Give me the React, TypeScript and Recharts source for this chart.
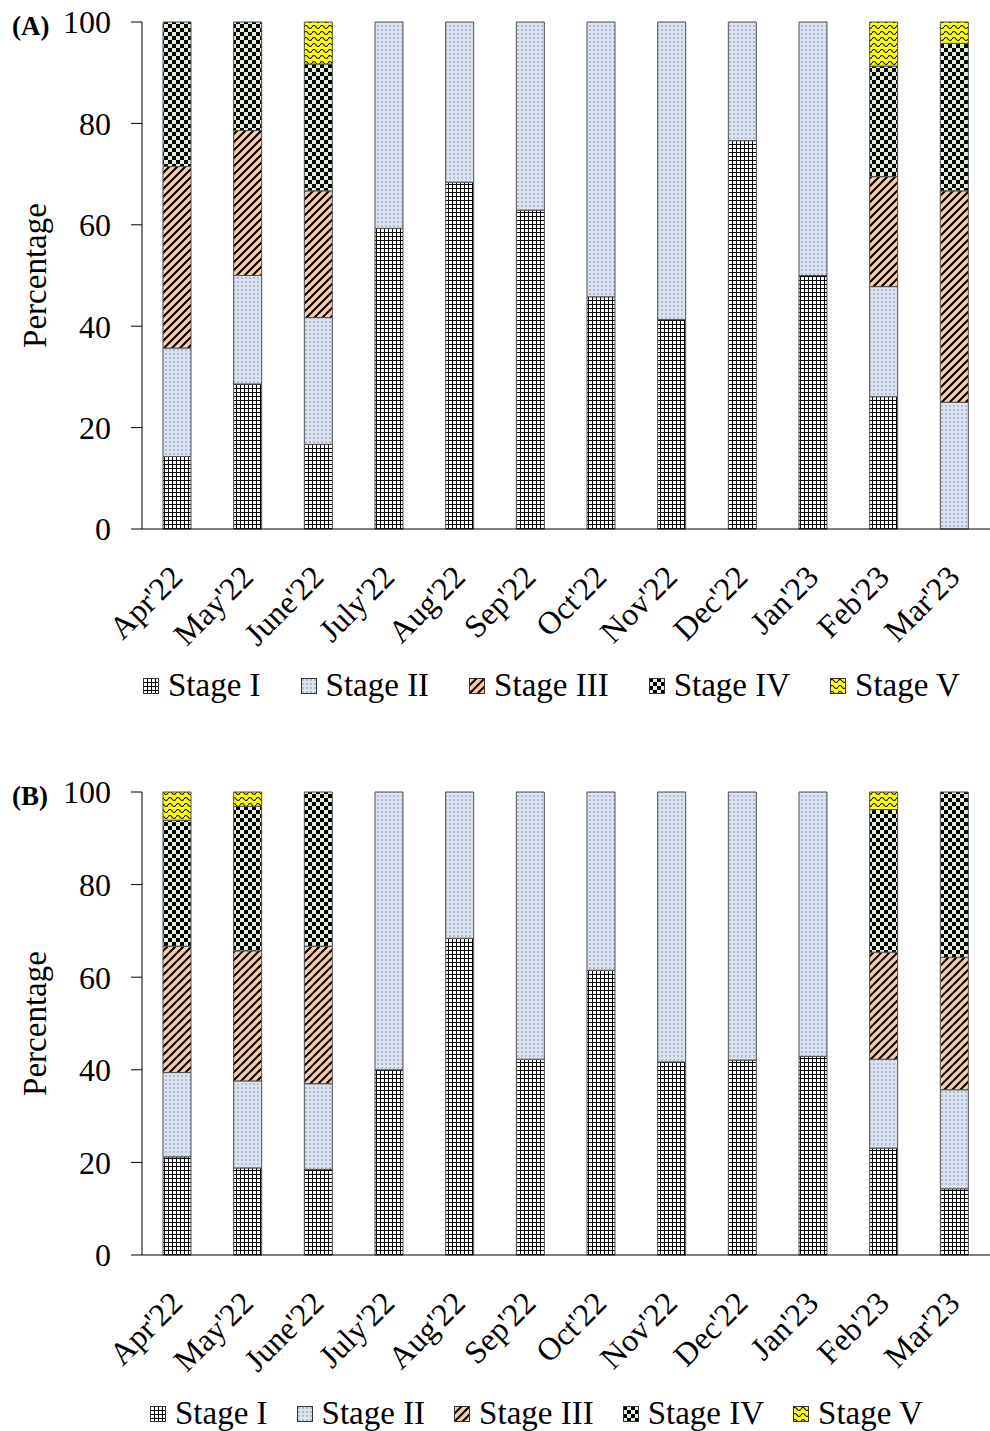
import React from 'react';
import { BarChart, Bar, XAxis, YAxis, Legend } from 'recharts';

const months = ["Apr'22", "May'22", "June'22", "July'22", "Aug'22", "Sep'22", "Oct'22", "Nov'22", "Dec'22", "Jan'23", "Feb'23", "Mar'23"];
const yTicks = [0, 20, 40, 60, 80, 100];
const stageNames = ['Stage I', 'Stage II', 'Stage III', 'Stage IV', 'Stage V'];

// panel A
const stageIA = [14.3, 28.6, 16.7, 59.3, 68.4, 62.9, 45.8, 41.3, 76.6, 50.0, 26.1, 0];
const stageIIA = [21.4, 21.4, 25.0, 40.7, 31.6, 37.1, 54.2, 58.7, 23.4, 50.0, 21.7, 25.0];
const stageIIIA = [35.8, 28.6, 25.0, 0, 0, 0, 0, 0, 0, 0, 21.7, 41.7];
const stageIVA = [28.5, 21.4, 25.0, 0, 0, 0, 0, 0, 0, 0, 21.8, 29.1];
const stageVA = [0, 0, 8.3, 0, 0, 0, 0, 0, 0, 0, 8.7, 4.2];

// panel B
const stageIB = [21.2, 18.8, 18.5, 40.0, 68.4, 42.3, 61.5, 41.7, 42.1, 42.9, 23.1, 14.3];
const stageIIB = [18.2, 18.8, 18.5, 60.0, 31.6, 57.7, 38.5, 58.3, 57.9, 57.1, 19.2, 21.4];
const stageIIIB = [27.3, 28.1, 29.7, 0, 0, 0, 0, 0, 0, 0, 23.1, 28.6];
const stageIVB = [27.2, 31.2, 33.3, 0, 0, 0, 0, 0, 0, 0, 30.8, 35.7];
const stageVB = [6.1, 3.1, 0, 0, 0, 0, 0, 0, 0, 0, 3.8, 0];

const FONT = '"Liberation Serif", "Times New Roman", serif';
const fills = ['url(#pGrid)', 'url(#pDots)', 'url(#pDiag)', 'url(#pCheck)', 'url(#pWave)'];
const keys = ['s1', 's2', 's3', 's4', 's5'];

const buildRows = (cols: number[][]) =>
  months.map((m, i) => ({ month: m, s1: cols[0][i], s2: cols[1][i], s3: cols[2][i], s4: cols[3][i], s5: cols[4][i] }));

const dataA = buildRows([stageIA, stageIIA, stageIIIA, stageIVA, stageVA]);
const dataB = buildRows([stageIB, stageIIB, stageIIIB, stageIVB, stageVB]);

const Patterns = () => (
  <svg width={0} height={0} style={{ position: 'absolute' }}>
    <defs>
      <pattern id="pGrid" patternUnits="userSpaceOnUse" width={4} height={4}>
        <rect width={4} height={4} fill="#fff" />
        <path d="M0 0.5 H4 M0.5 0 V4" stroke="#000" strokeWidth={1} />
      </pattern>
      <pattern id="pDots" patternUnits="userSpaceOnUse" width={4} height={4}>
        <rect width={4} height={4} fill="#dae3f3" />
        <rect x={1.5} y={1.5} width={1} height={1} fill="#444" />
      </pattern>
      <pattern id="pDiag" patternUnits="userSpaceOnUse" width={8} height={8}>
        <rect width={8} height={8} fill="#f8cbad" />
        <path d="M-2 2 L2 -2 M0 8 L8 0 M6 10 L10 6" stroke="#000" strokeWidth={2} />
      </pattern>
      <pattern id="pCheck" patternUnits="userSpaceOnUse" width={8} height={8}>
        <rect width={8} height={8} fill="#e2f0d9" />
        <rect x={0} y={0} width={4} height={4} fill="#000" />
        <rect x={4} y={4} width={4} height={4} fill="#000" />
      </pattern>
      <pattern id="pWave" patternUnits="userSpaceOnUse" width={8} height={6}>
        <rect width={8} height={6} fill="#ffff00" />
        <path d="M0 3 Q2 0 4 3 T8 3" stroke="#000" strokeWidth={1.2} fill="none" />
      </pattern>
    </defs>
  </svg>
);

const MonthTick = (props: any) => {
  const { x, y, payload } = props;
  return (
    <g transform={`translate(${x + 7},${y + 50})`}>
      <text transform="rotate(-45)" textAnchor="end" fontSize={32} fontFamily={FONT} fill="#000">
        {payload.value}
      </text>
    </g>
  );
};

const makeLegend = (left: number, gap: number) => (props: any) => {
  const { payload } = props;
  return (
    <div style={{ display: 'flex', alignItems: 'center', paddingLeft: left, fontFamily: FONT, fontSize: 33, color: '#000' }}>
      {(payload || []).map((entry: any, i: number) => (
        <span key={i} style={{ display: 'flex', alignItems: 'center', marginRight: gap }}>
          <svg width={16} height={16}>
            <rect x={0.5} y={0.5} width={15} height={15} fill={entry.color} stroke="#333" />
          </svg>
          <span style={{ marginLeft: 9, whiteSpace: 'nowrap' }}>{entry.value}</span>
        </span>
      ))}
    </div>
  );
};

const PctLabel = (props: any) => {
  const { viewBox } = props;
  const cy = viewBox.y + viewBox.height / 2;
  return (
    <text x={46} y={cy} transform={`rotate(-90, 46, ${cy})`} textAnchor="middle" fontSize={33} fontFamily={FONT} fill="#000">
      Percentage
    </text>
  );
};

const Panel = ({ data, height, top, bottom, legendTop, legendLeft, legendGap }: any) => (
  <BarChart width={990} height={height} data={data} margin={{ top, right: 0, bottom, left: 0 }}>
    <XAxis
      dataKey="month"
      height={30}
      tick={<MonthTick />}
      tickLine={false}
      tickSize={0}
      tickMargin={0}
      stroke="#000"
      interval={0}
    />
    <YAxis
      width={142}
      domain={[0, 100]}
      ticks={yTicks}
      tickSize={11}
      tickMargin={20}
      stroke="#000"
      tick={{ fill: '#000', fontSize: 32, fontFamily: FONT }}
      label={<PctLabel />}
    />
    <Legend
      layout="horizontal"
      verticalAlign="middle"
      align="center"
      content={makeLegend(legendLeft, legendGap)}
      wrapperStyle={{ top: legendTop, left: 0, width: 990 }}
    />
    {keys.map((k, i) => (
      <Bar
        key={k}
        dataKey={k}
        name={stageNames[i]}
        stackId="a"
        fill={fills[i]}
        stroke="#505050"
        strokeWidth={1}
        barSize={28}
        isAnimationActive={false}
      />
    ))}
  </BarChart>
);

export default function App() {
  return (
    <div style={{ position: 'absolute', left: 0, top: 0, width: 990, height: 1431, background: '#fff', fontFamily: FONT }}>
      <Patterns />
      <div style={{ position: 'absolute', left: 0, top: 0 }}>
        <Panel data={dataA} height={720} top={22} bottom={161} legendTop={667} legendLeft={143} legendGap={40} />
      </div>
      <div style={{ position: 'absolute', left: 12, top: 11, fontSize: 27, fontWeight: 'bold' }}>(A)</div>
      <div style={{ position: 'absolute', left: 0, top: 730 }}>
        <Panel data={dataB} height={701} top={62} bottom={146} legendTop={665} legendLeft={150} legendGap={29} />
      </div>
      <div style={{ position: 'absolute', left: 12, top: 781, fontSize: 27, fontWeight: 'bold' }}>(B)</div>
    </div>
  );
}
